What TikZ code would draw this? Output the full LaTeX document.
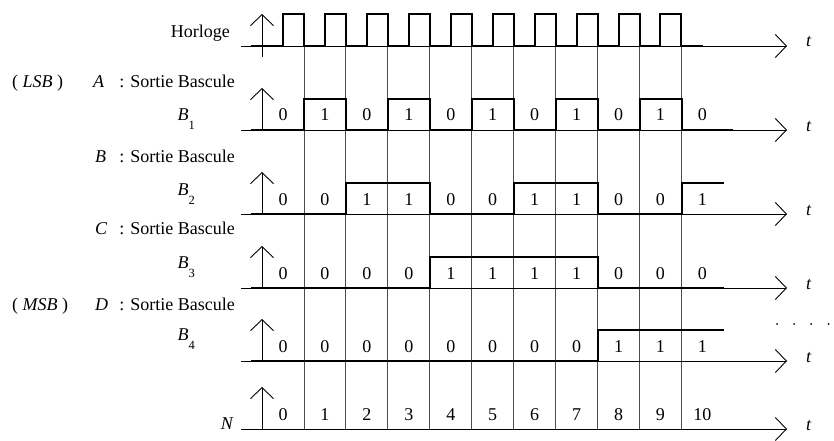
\documentclass[tikz,border=0pt]{standalone}
\usepackage{fontspec}
\setmainfont{Liberation Serif}
\usetikzlibrary{arrows.meta}
\newcommand{\indice}[1]{\raisebox{-9pt}{\fontsize{12.5}{14}\selectfont #1}}

\begin{document}
\begin{tikzpicture}[x=1pt, y=-1pt,
  font=\fontsize{18}{21}\selectfont,
  >={Straight Barb[length=11pt, width=23pt, line width=0.9pt]},
  axe/.style={->, draw=black, line width=0.9pt},
  onde/.style={draw=black, line width=2pt, line join=miter},
  grille/.style={draw=black!70, line width=0.9pt},
  lbl/.style={anchor=base east, inner sep=0pt},
  lblw/.style={anchor=base west, inner sep=0pt},
  bit/.style={anchor=base, inner sep=0pt}
]
\useasboundingbox (0,0) rectangle (834,441);

% ---- grille des fronts descendants
\foreach \k in {0,...,9}
  \draw[grille] ({304+41.94*\k},46) -- ({304+41.94*\k},429);

% ---- axes du temps
\foreach \y/\n in {46/clk,130/b1,214/b2,288/b3,361/b4,429/n} {
  \draw[axe] (241,\y) -- (787,\y);
  \node[lblw] (t\n) at (806,{\y+1}) {\textit{t}};
}
\draw[axe] (262,57) -- (262,14);
\foreach \y in {130,214,288,361,429}
  \draw[axe] (262,\y) -- (262,{\y-42});

% ---- signaux
\draw[onde] (251,46) \foreach \k in {0,...,9} { -| ({283+41.94*\k},14) -| ({304+41.94*\k},46) } -- (703,46);
\draw[onde] (251,130) -| (304,99) -| (345.9,130) -| (387.9,99) -| (429.8,130) -| (471.8,99)
  -| (513.7,130) -| (555.6,99) -| (597.6,130) -| (639.5,99) -| (681.5,130) -- (733,130);
\draw[onde] (251,214) -| (345.9,183) -| (429.8,214) -| (513.7,183) -| (597.6,214) -| (681.5,183) -- (724,183);
\draw[onde] (251,288) -| (429.8,257) -| (597.6,288) -- (724,288);
\draw[onde] (251,361) -| (597.6,330) -- (724,330);

% ---- valeurs
\foreach \y/\bits in {130/{0,1,0,1,0,1,0,1,0,1,0}, 214/{0,0,1,1,0,0,1,1,0,0,1},
    288/{0,0,0,0,1,1,1,1,0,0,0}, 361/{0,0,0,0,0,0,0,0,1,1,1}, 429/{0,1,2,3,4,5,6,7,8,9,10}}
  \foreach \b [count=\i from 0] in \bits
    \node[bit] (v\y-\i) at ({283+41.94*\i},{\y-9}) {\b};

% ---- libelles
\node[lbl] (horloge) at (230,38) {Horloge};
\node[lblw] (lsb) at (12,88) {( \textit{LSB} )};
\node[lblw] (la) at (93,88) {\textit{A}};
\node[lbl] (sa) at (235,88) {: Sortie Bascule};
\node[lbl] (qa) at (195,121) {\textit{B}\indice{1}};
\node[lblw] (lb) at (95,162) {\textit{B}};
\node[lbl] (sb) at (235,162) {: Sortie Bascule};
\node[lbl] (qb) at (195,195) {\textit{B}\indice{2}};
\node[lblw] (lc) at (95,234) {\textit{C}};
\node[lbl] (sc) at (235,234) {: Sortie Bascule};
\node[lbl] (qc) at (195,268) {\textit{B}\indice{3}};
\node[lblw] (msb) at (12,310) {( \textit{MSB} )};
\node[lblw] (ld) at (95,310) {\textit{D}};
\node[lbl] (sd) at (235,310) {: Sortie Bascule};
\node[lbl] (qd) at (195,340) {\textit{B}\indice{4}};
\node[lbl] (ln) at (234,429) {\textit{N}};

% ---- suite
\foreach \x in {777,794,811,828.5}
  \fill (\x,324) circle (1pt);
\end{tikzpicture}
\end{document}
